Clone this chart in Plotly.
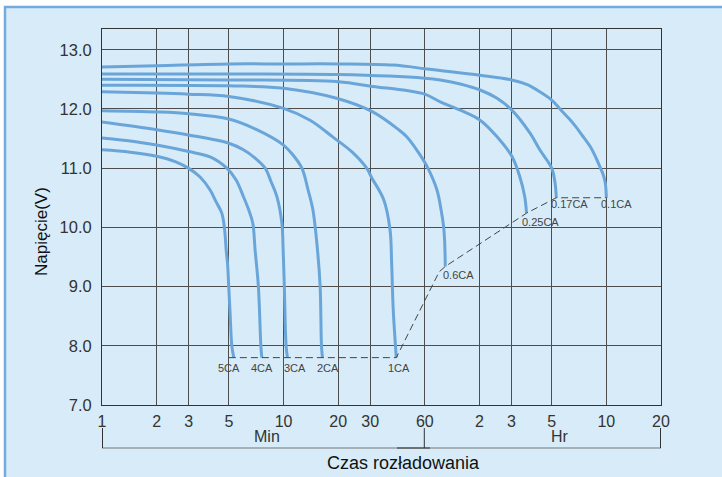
import math
import plotly.graph_objects as go

# ---------------- data (time in minutes, voltage in V) ----------------
labels = ["0.1CA", "0.17CA", "0.25CA", "0.6CA", "1CA", "2CA", "3CA", "4CA", "5CA"]

t_01 = [1, 2, 5, 10, 20, 40, 60, 73, 121, 181, 220, 258, 300, 340, 393, 440, 490, 525, 552, 575, 592, 600]
v_01 = [12.71, 12.73, 12.76, 12.76, 12.76, 12.74, 12.68, 12.65, 12.57, 12.49, 12.41, 12.29, 12.15, 11.97,
        11.76, 11.56, 11.36, 11.18, 11.03, 10.9, 10.75, 10.5]

t_017 = [1, 5, 20, 60, 73, 94, 121, 150, 181, 228, 258, 300, 313, 318]
v_017 = [12.59, 12.59, 12.58, 12.52, 12.49, 12.42, 12.32, 12.18, 11.98, 11.59, 11.31, 11.0, 10.75, 10.5]

t_025 = [1, 5, 20, 31, 47.7, 60, 73, 94, 121, 150, 181, 200, 213, 218]
v_025 = [12.50, 12.49, 12.46, 12.38, 12.31, 12.25, 12.12, 11.98, 11.81, 11.53, 11.2, 10.86, 10.52, 10.24]

t_06 = [1, 5, 10, 19.6, 31, 43, 47.7, 55.2, 61.7, 70, 73.7, 76.1, 77.1, 77.8]
v_06 = [12.40, 12.39, 12.35, 12.18, 11.95, 11.65, 11.53, 11.27, 11.03, 10.63, 10.3, 10.02, 9.79, 9.34]

t_1 = [1, 2, 3, 5, 10, 14.0, 18.8, 23.9, 28.7, 30.7, 35.6, 38.6, 39.4, 40.2, 41.8]
v_1 = [12.29, 12.27, 12.25, 12.21, 12.01, 11.81, 11.52, 11.27, 11.0, 10.83, 10.47, 9.96, 9.4, 8.61, 7.8]

t_2 = [1, 2, 3, 5, 7.12, 9.99, 11.29, 12.62, 13.66, 14.5, 15.38, 15.91, 16.18, 16.38]
v_2 = [11.97, 11.95, 11.92, 11.83, 11.65, 11.39, 11.22, 11.0, 10.63, 10.3, 9.62, 9.0, 8.0, 7.8]

t_3 = [1, 2, 3, 5, 6.01, 6.97, 7.92, 8.54, 9.19, 9.79, 9.95, 10.1, 10.33, 10.51]
v_3 = [11.78, 11.65, 11.56, 11.42, 11.31, 11.17, 11.0, 10.77, 10.52, 10.07, 9.62, 9.0, 8.0, 7.8]

t_4 = [1, 1.5, 2, 3, 3.94, 4.87, 5.48, 6.01, 6.42, 6.77, 6.97, 7.27, 7.5, 7.59]
v_4 = [11.51, 11.45, 11.39, 11.28, 11.19, 11.0, 10.8, 10.52, 10.3, 10.07, 9.62, 9.0, 8.0, 7.8]

t_5 = [1, 1.43, 2, 2.53, 2.99, 3.47, 3.94, 4.25, 4.57, 4.74, 4.83, 4.92, 4.99, 5.08, 5.19, 5.32]
v_5 = [11.31, 11.27, 11.2, 11.11, 11.0, 10.85, 10.63, 10.43, 10.24, 9.95, 9.62, 9.37, 9.0, 8.53, 8.0, 7.8]

cutoff_t = [5, 41.8, 72, 77.8, 218, 318, 600]
cutoff_v = [7.8, 7.8, 9.25, 9.34, 10.24, 10.5, 10.5]

y_ticks = [7.0, 8.0, 9.0, 10.0, 11.0, 12.0, 13.0]
x_tickvals = [1, 2, 3, 5, 10, 20, 30, 60, 120, 180, 300, 600, 1200]
x_ticktext = ["1", "2", "3", "5", "10", "20", "30", "60", "2", "3", "5", "10", "20"]

series_t = [t_01, t_017, t_025, t_06, t_1, t_2, t_3, t_4, t_5]
series_v = [v_01, v_017, v_025, v_06, v_1, v_2, v_3, v_4, v_5]

# label offsets in pixels relative to each curve's end point
label_dx = [10, 13, 14, 13, 3, 6, 8, 0, -5]
label_dy = [-6, -6, -9, -9, -10, -10, -10, -10, -10]

# ---------------- style ----------------
PANEL = "#d7ecf8"
BORDER = "#74aadd"
CURVE = "#6aa5da"
GRID = "#4d4d4d"
TXT = "#333333"
FONT = "Liberation Sans, Arial, sans-serif"

W, H = 722, 477
L, R, T, B = 102, 61, 29, 72
PW, PH = W - L - R, H - T - B


def X(px):
    return (px - L) / PW


def Y(py):
    return (H - B - py) / PH


fig = go.Figure()

for tt, vv in zip(series_t, series_v):
    fig.add_trace(go.Scatter(
        x=tt, y=vv, mode="lines",
        line=dict(color=CURVE, width=3, shape="spline", smoothing=1.0),
        hoverinfo="skip", showlegend=False))

fig.add_trace(go.Scatter(
    x=cutoff_t, y=cutoff_v, mode="lines",
    line=dict(color="#444444", width=1, dash="7px,4px"),
    hoverinfo="skip", showlegend=False))

annotations = []
for lab, tt, vv, dx, dy in zip(labels, series_t, series_v, label_dx, label_dy):
    annotations.append(dict(
        x=math.log10(tt[-1]), y=vv[-1], xref="x", yref="y",
        text=lab, showarrow=False, xshift=dx, yshift=dy,
        font=dict(size=11, color="#444444", family=FONT),
        xanchor="center", yanchor="middle"))

annotations += [
    dict(x=X(267), y=Y(436), xref="paper", yref="paper", text="Min", showarrow=False,
         font=dict(size=16, color=TXT, family=FONT), xanchor="center", yanchor="middle"),
    dict(x=X(560), y=Y(436), xref="paper", yref="paper", text="Hr", showarrow=False,
         font=dict(size=16, color=TXT, family=FONT), xanchor="center", yanchor="middle"),
    dict(x=X(403), y=Y(463), xref="paper", yref="paper", text="Czas rozładowania",
         showarrow=False, font=dict(size=18, color="#111111", family=FONT),
         xanchor="center", yanchor="middle"),
    dict(x=X(41), y=Y(232), xref="paper", yref="paper", text="Napięcie(V)",
         showarrow=False, textangle=-90, font=dict(size=17, color="#111111", family=FONT),
         xanchor="center", yanchor="middle"),
]

shapes = [
    # panel
    dict(type="rect", xref="paper", yref="paper", x0=X(5), x1=X(740), y0=Y(495), y1=Y(7),
         fillcolor=PANEL, line=dict(color=BORDER, width=2.5), layer="below"),
    # mask behind the low labels
    dict(type="rect", xref="paper", yref="y", x0=X(222), x1=X(380), y0=7.55, y1=7.78,
         fillcolor=PANEL, line=dict(width=0), layer="between"),
    # bracket under the axis
    dict(type="line", xref="paper", yref="paper", x0=X(102), x1=X(661), y0=Y(448), y1=Y(448),
         line=dict(color="#777777", width=1.2)),
    dict(type="line", xref="paper", yref="paper", x0=X(397), x1=X(430), y0=Y(448), y1=Y(448),
         line=dict(color="#333333", width=1.2)),
    dict(type="line", xref="paper", yref="paper", x0=X(102.5), x1=X(102.5), y0=Y(428), y1=Y(448),
         line=dict(color="#333333", width=1)),
    dict(type="line", xref="paper", yref="paper", x0=X(424.3), x1=X(424.3), y0=Y(428), y1=Y(448),
         line=dict(color="#333333", width=1)),
    dict(type="line", xref="paper", yref="paper", x0=X(660.5), x1=X(660.5), y0=Y(428), y1=Y(448),
         line=dict(color="#333333", width=1)),
]

fig.update_layout(
    width=W, height=H,
    margin=dict(l=L, r=R, t=T, b=B, pad=0),
    paper_bgcolor="white",
    plot_bgcolor="rgba(0,0,0,0)",
    font=dict(family=FONT, color=TXT, size=16),
    showlegend=False,
    annotations=annotations,
    shapes=shapes,
)

fig.update_xaxes(
    type="log", range=[0, math.log10(1200)],
    tickvals=x_tickvals, ticktext=x_ticktext,
    showgrid=True, gridcolor=GRID, gridwidth=1,
    showline=True, linecolor="#333333", linewidth=1, mirror=True,
    ticks="outside", ticklen=2, tickcolor="rgba(0,0,0,0)", zeroline=False,
    tickfont=dict(size=16, color=TXT, family=FONT),
)
fig.update_yaxes(
    range=[7.0, 13.35], tickvals=y_ticks, tickformat=".1f",
    showgrid=True, gridcolor=GRID, gridwidth=1,
    showline=True, linecolor="#333333", linewidth=1, mirror=True,
    ticks="outside", ticklen=6, tickcolor="rgba(0,0,0,0)", zeroline=False,
    tickfont=dict(size=16.5, color=TXT, family=FONT),
)

fig.write_html(
    "out.html",
    config={"displayModeBar": False},
    post_script="document.body.style.margin='0px';document.body.style.overflow='hidden';",
)
